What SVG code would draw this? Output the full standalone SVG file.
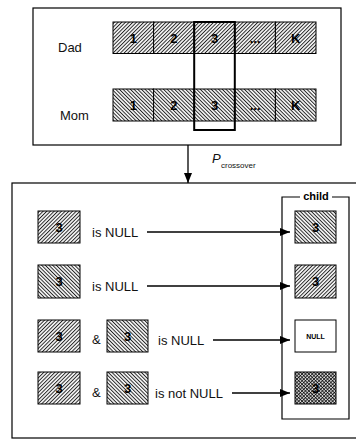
<svg xmlns="http://www.w3.org/2000/svg" width="356" height="441" viewBox="0 0 356 441">
<defs>
<style>
.box{fill:none;stroke:#000;stroke-width:1.2}
.cellD{fill:url(#hD);stroke:#000;stroke-width:1}
.cellM{fill:url(#hM);stroke:#000;stroke-width:1}
.cellX{fill:url(#hX);stroke:#000;stroke-width:1}
.cellN{fill:#fff;stroke:#000;stroke-width:1}
.lbl{font-family:"Liberation Sans",Arial,sans-serif;font-size:13px;fill:#111}
.num{font-family:"Liberation Sans",Arial,sans-serif;font-size:13px;font-weight:bold;fill:#000;text-anchor:middle}
.conn{stroke:#000;stroke-width:1.3;fill:none}
</style>
<pattern id="hD" width="2.6" height="2.6" patternUnits="userSpaceOnUse" patternTransform="rotate(45)">
<rect width="2.6" height="2.6" fill="#f4f4f4"/>
<line x1="0.5" y1="0" x2="0.5" y2="2.6" stroke="#000" stroke-width="0.8"/>
</pattern>
<pattern id="hM" width="2.6" height="2.6" patternUnits="userSpaceOnUse" patternTransform="rotate(-45)">
<rect width="2.6" height="2.6" fill="#f4f4f4"/>
<line x1="0.5" y1="0" x2="0.5" y2="2.6" stroke="#000" stroke-width="0.8"/>
</pattern>
<pattern id="hX" width="2.4" height="2.4" patternUnits="userSpaceOnUse" patternTransform="rotate(45)">
<rect width="2.4" height="2.4" fill="#eee"/>
<line x1="0.5" y1="0" x2="0.5" y2="2.4" stroke="#000" stroke-width="0.75"/>
<line x1="0" y1="0.5" x2="2.4" y2="0.5" stroke="#000" stroke-width="0.75"/>
</pattern>
<marker id="ah" viewBox="0 0 10 8" refX="10" refY="4" markerWidth="10" markerHeight="8" markerUnits="userSpaceOnUse" orient="auto">
<path d="M0,0 L10,4 L0,8 Z" fill="#000"/>
</marker>
</defs>

<g id="parents">
<rect class="box" x="33" y="8" width="308" height="137"/>
<text class="lbl" x="58" y="52">Dad</text>
<text class="lbl" x="60" y="120">Mom</text>
</g>

<g id="dad">
<rect class="cellD" x="113" y="22" width="40.6" height="31.5"/>
<rect class="cellD" x="153.6" y="22" width="40.6" height="31.5"/>
<rect class="cellD" x="194.2" y="22" width="40.6" height="31.5"/>
<rect class="cellD" x="234.8" y="22" width="40.6" height="31.5"/>
<rect class="cellD" x="275.4" y="22" width="40.6" height="31.5"/>
<text class="num" x="133.3" y="42.5">1</text>
<text class="num" x="173.9" y="42.5">2</text>
<text class="num" x="214.5" y="42.5">3</text>
<text class="num" x="255.1" y="42.5">...</text>
<text class="num" x="295.7" y="42.5">K</text>
</g>

<g id="mom">
<rect class="cellM" x="113" y="89" width="40.6" height="32"/>
<rect class="cellM" x="153.6" y="89" width="40.6" height="32"/>
<rect class="cellM" x="194.2" y="89" width="40.6" height="32"/>
<rect class="cellM" x="234.8" y="89" width="40.6" height="32"/>
<rect class="cellM" x="275.4" y="89" width="40.6" height="32"/>
<text class="num" x="133.3" y="110">1</text>
<text class="num" x="173.9" y="110">2</text>
<text class="num" x="214.5" y="110">3</text>
<text class="num" x="255.1" y="110">...</text>
<text class="num" x="295.7" y="110">K</text>
</g>

<g id="selection">
<rect x="194.2" y="22" width="40.6" height="108" fill="none" stroke="#000" stroke-width="2"/>
</g>

<g id="crossover-label">
<text x="212" y="163" font-family="'Liberation Sans',Arial,sans-serif" font-size="13" font-style="italic" fill="#111">P</text>
<text x="221" y="168" font-family="'Liberation Sans',Arial,sans-serif" font-size="8" fill="#111">crossover</text>
</g>

<g id="result">
<rect class="box" x="12" y="183" width="352" height="255"/>
</g>

<g id="child">
<path class="box" d="M300,197 H282 V419 H349 V197 H332"/>
<text x="316" y="200" font-family="'Liberation Sans',Arial,sans-serif" font-size="11" font-weight="bold" text-anchor="middle" fill="#000">child</text>
<rect class="cellM" x="295" y="211" width="41" height="32"/>
<text class="num" x="315.5" y="232">3</text>
<rect class="cellD" x="295" y="265" width="41" height="33"/>
<text class="num" x="315.5" y="286">3</text>
<rect class="cellN" x="295" y="320" width="41" height="32"/>
<text x="315.5" y="339" font-family="'Liberation Sans',Arial,sans-serif" font-size="7" font-weight="bold" text-anchor="middle" fill="#000">NULL</text>
<rect class="cellX" x="295" y="372" width="41" height="32"/>
<text class="num" x="315.5" y="393">3</text>
</g>

<g id="row1">
<rect class="cellD" x="38" y="211" width="42" height="32"/>
<text class="num" x="59" y="232">3</text>
<text class="lbl" x="92" y="237">is NULL</text>
</g>

<g id="row2">
<rect class="cellM" x="38" y="265" width="42" height="33"/>
<text class="num" x="59" y="286">3</text>
<text class="lbl" x="92" y="291">is NULL</text>
</g>

<g id="row3">
<rect class="cellD" x="38" y="320" width="42" height="32"/>
<text class="num" x="59" y="341">3</text>
<text class="lbl" x="92" y="344">&amp;</text>
<rect class="cellM" x="107" y="320" width="41" height="32"/>
<text class="num" x="127.5" y="341">3</text>
<text class="lbl" x="158" y="345">is NULL</text>
</g>

<g id="row4">
<rect class="cellD" x="38" y="372" width="42" height="32"/>
<text class="num" x="59" y="393">3</text>
<text class="lbl" x="92" y="397">&amp;</text>
<rect class="cellM" x="107" y="372" width="41" height="32"/>
<text class="num" x="127.5" y="393">3</text>
<text class="lbl" x="155" y="398">is not NULL</text>
</g>

<g id="connectors">
<line class="conn" x1="188" y1="145" x2="188" y2="183" marker-end="url(#ah)"/>
<line class="conn" x1="147" y1="232" x2="290" y2="232" marker-end="url(#ah)"/>
<line class="conn" x1="147" y1="286" x2="290" y2="286" marker-end="url(#ah)"/>
<line class="conn" x1="213" y1="340" x2="290" y2="340" marker-end="url(#ah)"/>
<line class="conn" x1="232" y1="393" x2="290" y2="393" marker-end="url(#ah)"/>
</g>
</svg>
